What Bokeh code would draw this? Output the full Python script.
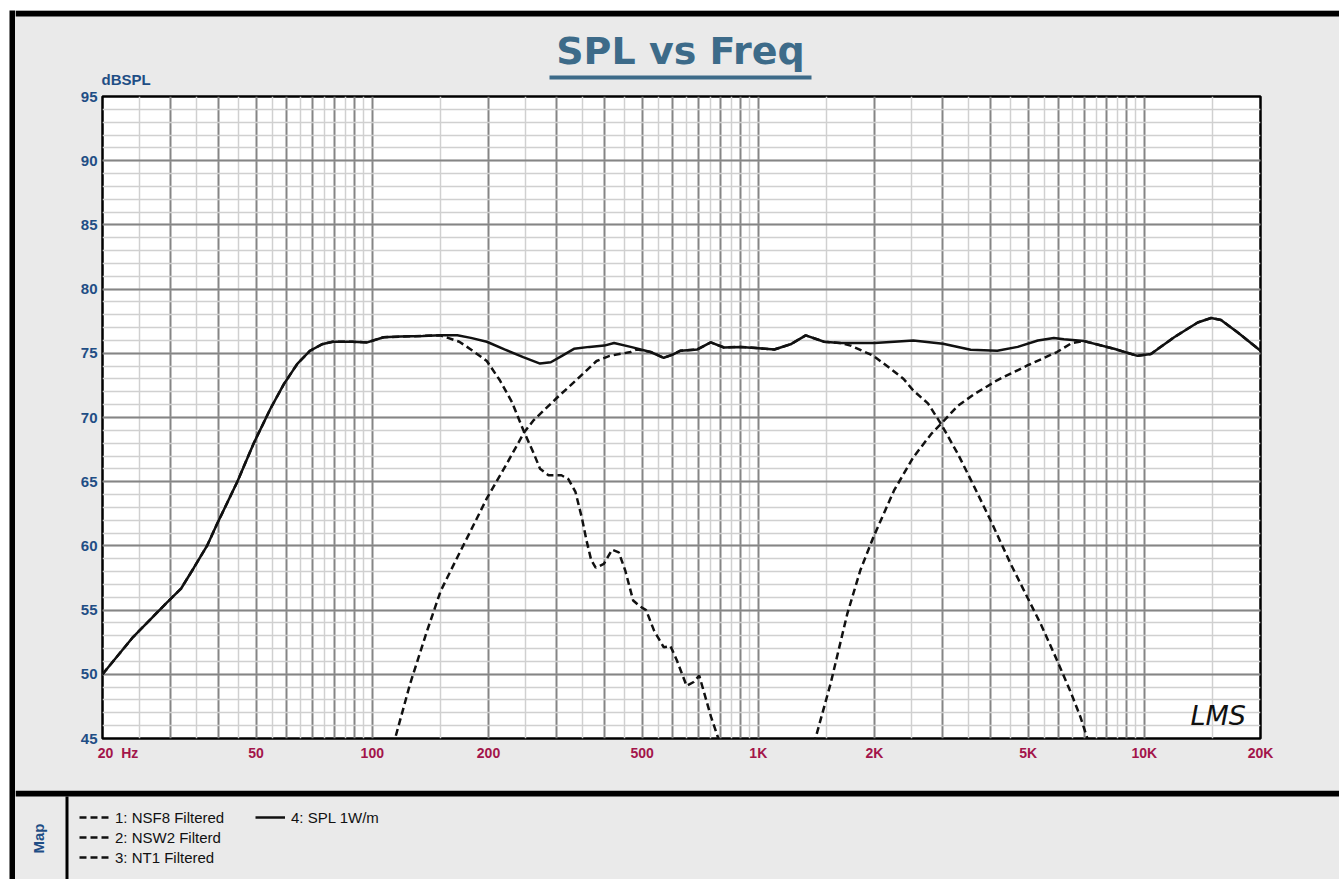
from bokeh.plotting import figure
from bokeh.models import (FixedTicker, Label, BoxAnnotation, Legend, LegendItem, Range1d,
                          Spacer)
from bokeh.layouts import column, row
from bokeh.embed import file_html
from bokeh.resources import INLINE

# ---------------- data ----------------
spl_freq = [20, 24, 29.4, 32, 34.5, 37.3, 39.6, 44.7, 49.3, 54.5, 59, 64, 69, 74, 79, 89, 97,
            107, 118, 135, 150, 166, 180, 198, 220, 246, 272, 290, 310, 333, 365, 399, 423,
            467, 526, 569, 600, 629, 695, 753, 815, 900, 1000, 1100, 1212, 1327, 1480, 1630,
            1800, 2000, 2250, 2520, 3010, 3550, 4160, 4700, 5300, 5830, 6190, 6980, 8350,
            9600, 10400, 11950, 13750, 14900, 15800, 17500, 20000]
spl_db = [50.0, 52.9, 55.6, 56.7, 58.3, 60.0, 61.7, 65.0, 68.0, 70.7, 72.6, 74.2, 75.2, 75.7,
          75.9, 75.9, 75.85, 76.25, 76.3, 76.35, 76.4, 76.4, 76.2, 75.9, 75.3, 74.7, 74.2,
          74.3, 74.8, 75.35, 75.5, 75.6, 75.8, 75.5, 75.1, 74.65, 74.9, 75.2, 75.3, 75.85,
          75.45, 75.5, 75.4, 75.3, 75.7, 76.4, 75.9, 75.8, 75.8, 75.8, 75.9, 76.0, 75.75,
          75.27, 75.2, 75.5, 76.0, 76.2, 76.1, 75.95, 75.35, 74.8, 74.95, 76.25, 77.4, 77.75,
          77.6, 76.6, 75.2]

nsf8_freq = [20, 24, 29.4, 32, 34.5, 37.3, 39.6, 44.7, 49.3, 54.5, 59, 64, 69, 74, 79, 89, 97,
             107, 118, 135, 150, 157, 168, 180, 198, 214, 230, 247.5, 262, 272, 286, 309, 322,
             336, 349, 359, 369, 379, 398, 418, 435, 452, 474, 493, 512, 537, 569, 592, 615,
             652, 680, 703, 725, 754, 788, 830]
nsf8_db = [50.0, 52.9, 55.6, 56.7, 58.3, 60.0, 61.7, 65.0, 68.0, 70.7, 72.6, 74.2, 75.2, 75.7,
           75.9, 75.9, 75.85, 76.25, 76.3, 76.35, 76.4, 76.2, 75.9, 75.3, 74.4, 72.9, 71.2,
           68.85, 67.2, 66.0, 65.5, 65.5, 65.2, 64.2, 62.2, 60.4, 58.9, 58.3, 58.6, 59.7, 59.5,
           58.1, 55.75, 55.3, 55.0, 53.4, 52.1, 52.2, 51.1, 49.1, 49.4, 49.9, 48.5, 46.7, 45.0,
           42.5]

nsw2_freq = [105, 114.8, 125.4, 138.7, 150.4, 166, 180, 198, 223, 247.5, 262, 300, 340, 381,
             412, 467, 485, 526, 569, 600, 629, 695, 753, 815, 900, 1000, 1100, 1212, 1327,
             1480, 1630, 1734, 1988, 2202, 2380, 2521, 2751, 2974, 3284, 3600, 3996, 4506,
             4977, 5395, 5940, 6428, 6827, 7120, 7400]
nsw2_db = [42.0, 45.1, 49.3, 53.4, 56.5, 59.1, 61.2, 63.7, 66.4, 68.85, 69.8, 71.5, 73.0, 74.4,
           74.8, 75.1, 75.3, 75.1, 74.65, 74.9, 75.2, 75.3, 75.85, 75.45, 75.5, 75.4, 75.3,
           75.7, 76.4, 75.9, 75.8, 75.6, 74.8, 73.8, 73.0, 72.1, 71.1, 69.5, 67.2, 64.8, 62.0,
           58.6, 56.0, 53.9, 51.1, 48.7, 46.7, 45.0, 43.0]

nt1_freq = [1350, 1406, 1540, 1700, 1838, 1988, 2246, 2521, 2802, 2974, 3284, 3620, 4156, 4977,
            5940, 6490, 6980, 8350, 9600, 10400, 11950, 13750, 14900, 15800, 17500, 20000]
nt1_db = [42.0, 45.0, 49.3, 54.7, 58.1, 60.7, 64.3, 66.9, 68.7, 69.5, 70.9, 71.8, 72.9, 74.05,
          75.1, 75.8, 75.95, 75.35, 74.8, 74.95, 76.25, 77.4, 77.75, 77.6, 76.6, 75.2]

series_labels = ["1: NSF8 Filtered", "2: NSW2 Filterd", "3: NT1 Filtered", "4: SPL 1W/m"]
series_dash = ["7 4", "7 4", "7 4", "solid"]

x_tick_values = [20, 50, 100, 200, 500, 1000, 2000, 5000, 10000, 20000]
x_tick_labels = ["\u00a0" * 8 + "20\u00a0\u00a0Hz", "50", "100", "200", "500",
                 "1K", "2K", "5K", "10K", "20K"]
y_tick_values = [45, 50, 55, 60, 65, 70, 75, 80, 85, 90, 95]
y_tick_labels = ["45", "50", "55", "60", "65", "70", "75", "80", "85", "90", "95"]

# grid positions (styling)
x_grid_major = [m * d for d in (10, 100, 1000) for m in range(1, 10)] + [10000, 20000]
x_grid_major = [v for v in x_grid_major if 20 <= v <= 20000]
x_grid_minor = [m * d + d / 2 for d in (10, 100, 1000, 10000) for m in range(1, 10)]
x_grid_minor = [v for v in x_grid_minor if 20 < v < 20000]
y_grid_major = list(range(45, 96, 5))
y_grid_minor = list(range(45, 96))

FONT = "Liberation Sans"
BLUE = "#1F4E85"
RED = "#A3154A"
TITLE = "#3D6B89"
BG = "#EAEAEA"
INK = "#111111"

CW = 1324          # width of the grey content area
TOP_H, MAIN_H, BOT_H = 78, 702, 89


def panel_fig(w, h, color=BG):
    f = figure(width=w, height=h, x_range=Range1d(0, 1), y_range=Range1d(0, 1),
               output_backend="svg", toolbar_location=None, min_border=0,
               x_axis_location=None, y_axis_location=None)
    f.grid.visible = False
    f.outline_line_color = None
    f.background_fill_color = color
    f.border_fill_color = color
    f.frame_align = False
    return f


def cbox(f, l, t, r, b, color):
    f.add_layout(BoxAnnotation(left=l, right=r, top=t, bottom=b,
                               left_units="canvas", right_units="canvas",
                               top_units="canvas", bottom_units="canvas",
                               fill_color=color, fill_alpha=1, line_color=None))


def clabel(f, x, y, text, **kw):
    f.add_layout(Label(x=x, y=y, x_units="canvas", y_units="canvas", text=text, **kw))


# ---------------- main plot ----------------
p = figure(width=CW, height=MAIN_H, x_axis_type="log", x_range=Range1d(20, 20000),
           y_range=Range1d(45, 95), output_backend="svg", toolbar_location=None,
           min_border_left=87, min_border_right=79, min_border_top=8, min_border_bottom=52)
p.frame_align = False
p.border_fill_color = BG
p.background_fill_color = "white"
p.outline_line_color = "black"
p.outline_line_width = 2.5

p.xgrid.ticker = FixedTicker(ticks=x_grid_major, minor_ticks=x_grid_minor)
p.ygrid.ticker = FixedTicker(ticks=y_grid_major, minor_ticks=y_grid_minor)
for g in (p.xgrid, p.ygrid):
    g.grid_line_color = "#858585"
    g.grid_line_width = 2
    g.minor_grid_line_color = "#D0D0D0"
    g.minor_grid_line_width = 1.5

p.xaxis.ticker = FixedTicker(ticks=x_tick_values)
p.xaxis.major_label_overrides = dict(zip(x_tick_values, x_tick_labels))
p.yaxis.ticker = FixedTicker(ticks=y_tick_values)
p.yaxis.major_label_overrides = dict(zip(y_tick_values, y_tick_labels))
for ax, col, size, stand in ((p.xaxis, RED, "14px", 6), (p.yaxis, BLUE, "15px", 5)):
    ax.axis_line_color = None
    ax.major_tick_line_color = None
    ax.minor_tick_line_color = None
    ax.major_tick_out = 0
    ax.major_tick_in = 0
    ax.major_label_standoff = stand
    ax.major_label_text_font = FONT
    ax.major_label_text_font_style = "bold"
    ax.major_label_text_font_size = size
    ax.major_label_text_color = col

series = [(nsf8_freq, nsf8_db), (nsw2_freq, nsw2_db), (nt1_freq, nt1_db), (spl_freq, spl_db)]
for (fx, fy), dash in zip(series, series_dash):
    p.line(fx, fy, line_color=INK, line_width=2.5, line_dash=dash)

# LMS mark (inside the plot frame)
clabel(p, 1175, 627, "LMS", text_align="left", text_baseline="middle",
       text_font="DejaVu Sans", text_font_style="italic", text_font_size="27px",
       text_color=INK)

# ---------------- top strip: frame edge, title, unit ----------------
top = panel_fig(CW, TOP_H)
cbox(top, 0, 0, CW, 6, "black")
clabel(top, 665, 40, "SPL vs Freq", text_align="center", text_baseline="middle",
       text_font="DejaVu Sans", text_font_style="bold", text_font_size="38px",
       text_color=TITLE)
cbox(top, 534, 65, 796, 69, TITLE)
clabel(top, 86, 77.5, "dBSPL", text_align="left", text_baseline="bottom", text_font=FONT,
       text_font_style="bold", text_font_size="15px", text_color=BLUE)

# ---------------- bottom strip: Map tab and legend ----------------
bot = panel_fig(CW, BOT_H)
cbox(bot, 0, 0, CW, 6, "black")
cbox(bot, 50, 6, 53, BOT_H, "black")
clabel(bot, 23, 48, "Map", angle=1.5708, text_align="center", text_baseline="middle",
       text_font=FONT, text_font_style="bold", text_font_size="15px", text_color=BLUE)
leg_renderers = []
for (fx, fy), dash in zip(series, series_dash):
    leg_renderers.append(bot.line(fx, fy, line_color=INK, line_width=2.5, line_dash=dash))
legend = Legend(items=[LegendItem(label=lab, renderers=[r])
                       for lab, r in zip(series_labels, leg_renderers)],
                location=(64, 12), orientation="vertical", nrows=3,
                glyph_width=30, glyph_height=20, label_height=20, label_width=140,
                label_standoff=6, spacing=0, padding=0, margin=0,
                border_line_color=None, background_fill_alpha=0,
                label_text_font=FONT, label_text_font_size="15px", label_text_color="#111111")
bot.add_layout(legend)

# ---------------- left frame edge ----------------
left_edge = panel_fig(6, TOP_H + MAIN_H + BOT_H, color="black")

content = column(top, p, bot, styles={"background-color": BG})
layout = column(Spacer(width=1339, height=10),
                row(Spacer(width=9, height=TOP_H + MAIN_H + BOT_H), left_edge, content))

open("out.html", "w").write(file_html(layout, INLINE))
